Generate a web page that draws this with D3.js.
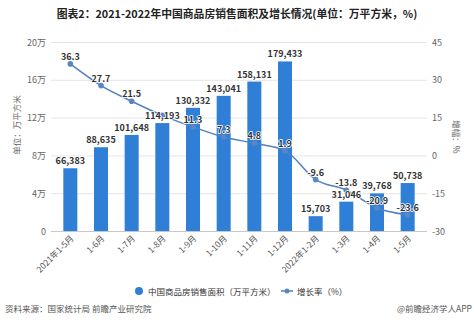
<!DOCTYPE html>
<html><head><meta charset="utf-8">
<script src="https://cdn.jsdelivr.net/npm/d3@7"></script>
<style>
html,body{margin:0;padding:0;background:#fff;}
svg{display:block;font-family:"Noto Sans CJK SC","Noto Sans",sans-serif;}
</style></head>
<body><svg id="c" width="474" height="327"></svg>
<script>
const categories = ["2021年1-5月","1-6月","1-7月","1-8月","1-9月","1-10月","1-11月","1-12月","2022年1-2月","1-3月","1-4月","1-5月"];
const areaValues = [66383,88635,101648,114193,130332,143041,158131,179433,15703,31046,39768,50738];
const growthValues = [36.3,27.7,21.5,15.9,11.3,7.3,4.8,1.9,-9.6,-13.8,-20.9,-23.6];
const hiddenGrowthLabels = [3];
const leftTicks = [0,40000,80000,120000,160000,200000];
const leftTickLabels = ["0","4万","8万","12万","16万","20万"];
const rightTicks = [-30,-15,0,15,30,45];

(function(){
const svg = d3.select("#c");
const pTop = 42, pBottom = 231, pLeft = 51, pRight = 427;
const x = d3.scaleBand().domain(categories).range([55,423]).padding(0);
const yL = d3.scaleLinear().domain([0,200000]).range([pBottom,pTop]);
const yR = d3.scaleLinear().domain([-30,45]).range([pBottom,pTop]);
const cx = d => x(d) + x.bandwidth()/2;
const growth = growthValues.map((v,i)=>({v,i,c:categories[i]}));

svg.append("text").attr("x",237).attr("y",18).attr("text-anchor","middle")
  .attr("font-size",10.8).attr("font-weight","bold").attr("fill","#222")
  .text("图表2：2021-2022年中国商品房销售面积及增长情况(单位：万平方米，%)");

svg.append("g").selectAll("line").data(leftTicks).join("line")
  .attr("x1",pLeft).attr("x2",pRight).attr("y1",d=>yL(d)+0.5).attr("y2",d=>yL(d)+0.5)
  .attr("stroke",d=>d===0?"#c8c8c8":"#e6e6e6").attr("stroke-width",1);

svg.append("g").selectAll("text").data(leftTicks).join("text")
  .attr("x",46).attr("y",d=>yL(d)+3.5).attr("text-anchor","end")
  .attr("font-size",9).attr("fill","#666").text((d,i)=>leftTickLabels[i]);
svg.append("g").selectAll("text").data(rightTicks).join("text")
  .attr("x",432).attr("y",d=>yR(d)+3.5).attr("text-anchor","start")
  .attr("font-size",9).attr("fill","#666").text(d=>d);

svg.append("text").attr("transform","translate(20,125) rotate(-90)").attr("text-anchor","middle")
  .attr("font-size",8.5).attr("fill","#666").text("单位：万平方米");
svg.append("text").attr("transform","translate(453,137) rotate(90)").attr("text-anchor","middle")
  .attr("font-size",8.5).attr("fill","#666").text("增幅：%");

const barW = 14;
svg.append("g").selectAll("rect").data(categories).join("rect")
  .attr("x",d=>cx(d)-barW/2).attr("width",barW)
  .attr("y",(d,i)=>yL(areaValues[i])).attr("height",(d,i)=>pBottom-yL(areaValues[i]))
  .attr("fill","#2f7fd6");

const line = d3.line().x(d=>cx(d.c)).y(d=>yR(d.v)).curve(d3.curveMonotoneX);
svg.append("path").datum(growth).attr("d",line).attr("fill","none")
  .attr("stroke","#4f82c3").attr("stroke-width",1.5);
svg.append("g").selectAll("circle").data(growth).join("circle")
  .attr("cx",d=>cx(d.c)).attr("cy",d=>yR(d.v)).attr("r",2.8)
  .attr("fill","#5a86c6");

svg.append("g").selectAll("text").data(areaValues).join("text")
  .attr("x",(d,i)=>cx(categories[i])).attr("y",d=>yL(d)-4).attr("text-anchor","middle")
  .attr("font-size",9).attr("font-weight","bold").attr("fill","#333")
  .attr("stroke","#fff").attr("stroke-width",1.5).attr("paint-order","stroke")
  .text(d=>d3.format(",")(d));

svg.append("g").selectAll("text").data(growth.filter(d=>!hiddenGrowthLabels.includes(d.i))).join("text")
  .attr("x",d=>cx(d.c)).attr("y",d=>yR(d.v)-4).attr("text-anchor","middle")
  .attr("font-size",9).attr("font-weight","bold").attr("fill","#333")
  .attr("stroke","#fff").attr("stroke-width",1.5).attr("paint-order","stroke")
  .text(d=>d.v);

svg.append("g").selectAll("text").data(categories).join("text")
  .attr("transform",d=>`translate(${cx(d)+4},${pBottom+8}) rotate(-45)`)
  .attr("text-anchor","end").attr("font-size",8.5).attr("fill","#555").text(d=>d);

const lg = svg.append("g");
lg.append("circle").attr("cx",139).attr("cy",291).attr("r",4).attr("fill","#2f7fd6");
lg.append("text").attr("x",148).attr("y",294.5).attr("font-size",8.5).attr("fill","#333").text("中国商品房销售面积（万平方米）");
lg.append("line").attr("x1",281).attr("x2",293).attr("y1",291).attr("y2",291).attr("stroke","#4f82c3").attr("stroke-width",1.5);
lg.append("circle").attr("cx",287).attr("cy",291).attr("r",2.5).attr("fill","#5a86c6");
lg.append("text").attr("x",297).attr("y",294.5).attr("font-size",8.5).attr("fill","#333").text("增长率（%）");

svg.append("text").attr("x",5).attr("y",312).attr("font-size",8.5).attr("fill","#555").text("资料来源：国家统计局 前瞻产业研究院");
svg.append("text").attr("x",472).attr("y",312).attr("text-anchor","end").attr("font-size",8.5).attr("fill","#555").text("@前瞻经济学人APP");
})();
</script></body></html>
